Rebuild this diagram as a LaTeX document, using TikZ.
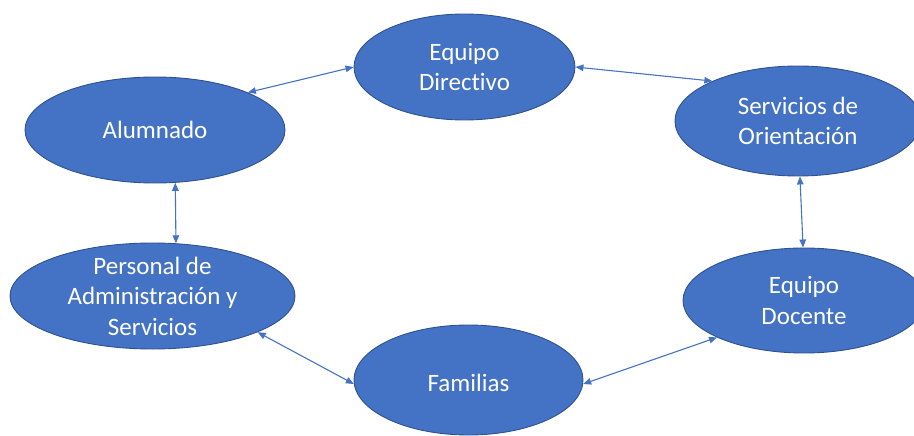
\documentclass[tikz,border=0pt]{standalone}
\usepackage{fontspec}
\setmainfont{Carlito}[Ligatures=NoCommon]
\usetikzlibrary{shapes.geometric,arrows.meta}
\definecolor{blobfill}{HTML}{4472C4}
\definecolor{blobline}{HTML}{2F528F}
\definecolor{arrowc}{HTML}{4472C4}
\begin{document}
\begin{tikzpicture}[x=1pt,y=1pt,
  blob/.style={ellipse, fill=blobfill, draw=blobline, line width=0.9pt, inner sep=0pt},
  lbl/.style={text=white, align=center, font=\fontsize{25}{30.5}\selectfont},
  link/.style={draw=arrowc, line width=1.1pt, {Triangle[length=8pt,width=6.5pt]}-{Triangle[length=8pt,width=6.5pt]}}]
\useasboundingbox (0,0) rectangle (914,-436);
\clip (0,0) rectangle (914,-436);
\node[blob, minimum width=221pt, minimum height=106pt] (dir) at (464.5,-67) {};
\node[blob, minimum width=260pt, minimum height=106pt] (alu) at (155,-130) {};
\node[blob, minimum width=246pt, minimum height=110pt] (ser) at (798,-121) {};
\node[blob, minimum width=285pt, minimum height=106pt] (per) at (152.5,-296) {};
\node[blob, minimum width=242pt, minimum height=105pt] (doc) at (804,-300.5) {};
\node[blob, minimum width=229pt, minimum height=110pt] (fam) at (468.5,-380) {};
\node[lbl] (tdir) at (dir.center) {Equipo\\Directivo};
\node[lbl] (talu) at (alu.center) {Alumnado};
\node[lbl] (tser) at (ser.center) {Servicios de\\Orientación};
\node[lbl] (tper) at (per.center) {Personal de\\Administración y\\Servicios};
\node[lbl] (tdoc) at (doc.center) {Equipo\\Docente};
\node[lbl] (tfam) at ([yshift=-3pt]fam.center) {Familias};
\draw[link] (alu.22.2) -- (dir.180);
\draw[link] (dir.0) -- (ser.155.3);
\draw[link] (alu.-69.3) -- (per.66.7);
\draw[link] (ser.-88) -- (doc.91);
\draw[link] (per.-19.85) -- (fam.182);
\draw[link] (fam.-2) -- (doc.203.8);
\end{tikzpicture}
\end{document}
